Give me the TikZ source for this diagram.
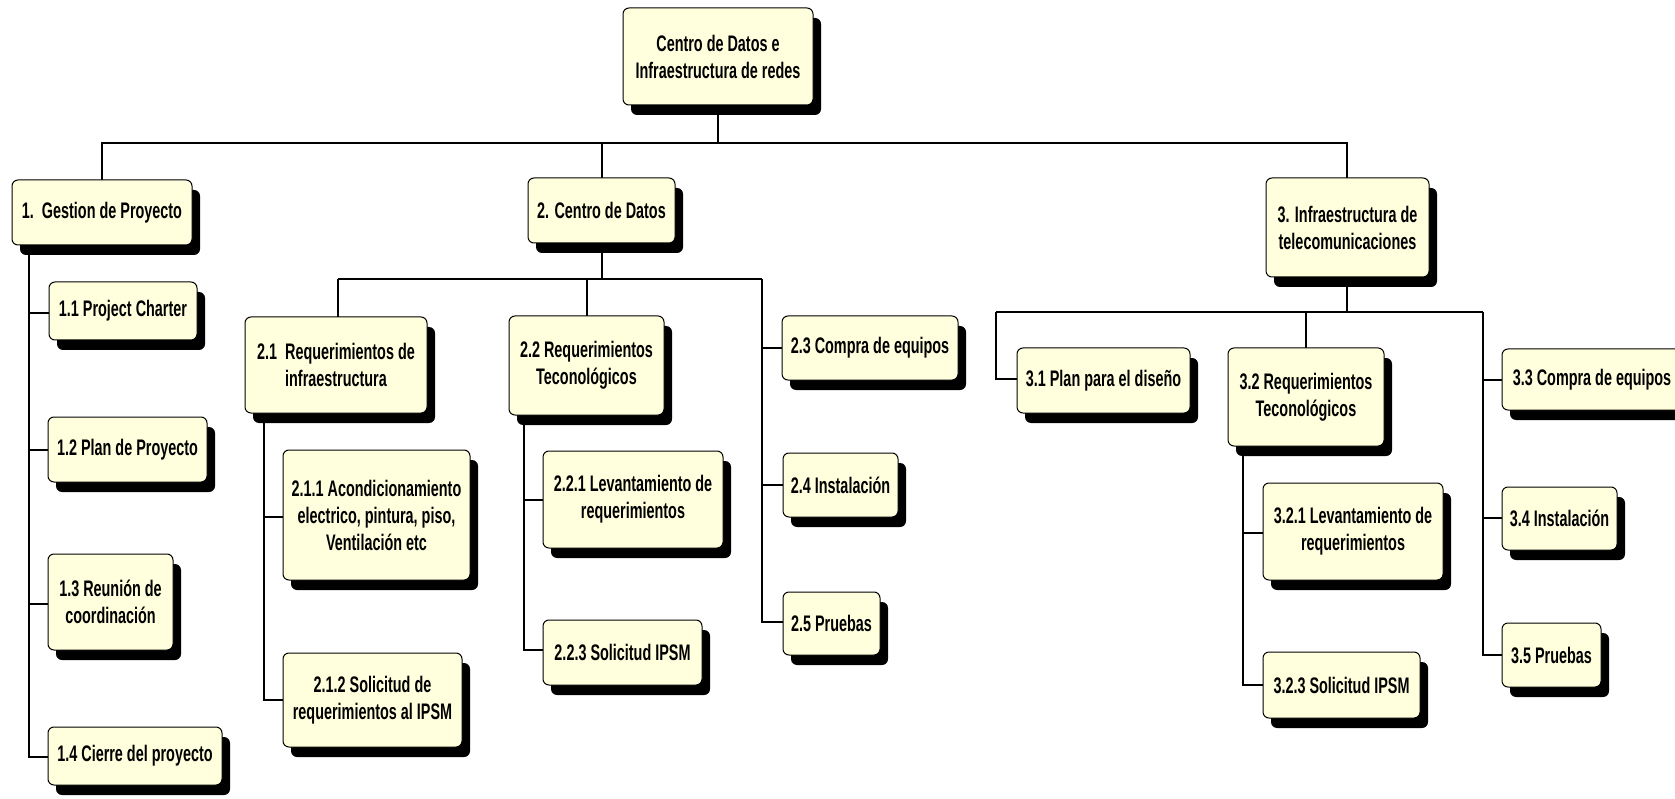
\documentclass[tikz,border=0pt]{standalone}
\usepackage{fontspec}
\setmainfont{Liberation Sans}[FakeStretch=0.64]
\usetikzlibrary{shadows}
\definecolor{boxfill}{RGB}{255,255,222}
\tikzset{
  wbs/.style={draw=black, line width=1pt, fill=boxfill, rounded corners=6pt,
    align=center, inner sep=2pt,
    font=\fontsize{22.5}{27}\selectfont\bfseries,
    drop shadow={shadow xshift=8pt, shadow yshift=-10pt, fill=black, opacity=1}},
  link/.style={line width=2.4pt, black}
}
\begin{document}
\begin{tikzpicture}[x=1pt,y=-1pt]
\useasboundingbox (0,0) rectangle (1675,799);
% connector hubs
\coordinate (b0) at (718,143);
\coordinate (c1) at (29,245);
\coordinate (b2) at (602,279);
\coordinate (c2l) at (338,279);
\coordinate (c2r) at (762,279);
\coordinate (c21) at (264,413);
\coordinate (c22) at (524,415);
\coordinate (b3) at (1347,312);
\coordinate (c3l) at (996,312);
\coordinate (c3r) at (1483,312);
\coordinate (c32) at (1243,446);

% connectors (drawn first, boxes cover them)
\draw[link] (b0) -- (718,100) (101,143) -- (1347,143);
\draw[link] (b0) -| (102,190);
\draw[link] (b0) -| (b2);
\draw[link] (b0) -| (b3);
\draw[link] (c1) |- (123,313) (c1) |- (127,450) (c1) |- (110,604) (c1) |- (135,757);
\draw[link] (b2) -- (602,230) (c2l) -- (c2r);
\draw[link] (c2l) -- (338,330);
\draw[link] (587,279) -- (587,330);
\draw[link] (c2r) |- (870,348) (c2r) |- (840,485) (c2r) |- (831,622);
\draw[link] (c21) |- (376,517) (c21) |- (370,700);
\draw[link] (c22) |- (633,500) (c22) |- (622,650);
\draw[link] (b3) -- (1347,260) (c3l) -- (c3r);
\draw[link] (c3l) |- (1103,379);
\draw[link] (1306,312) -- (1306,360);
\draw[link] (c3r) |- (1590,380) (c3r) |- (1559,518) (c3r) |- (1551,655);
\draw[link] (c32) |- (1353,533) (c32) |- (1341,685);

% boxes
\node[wbs, minimum width=190pt, minimum height=97pt] (root) at (718,56.5) {Centro de Datos e\\Infraestructura de redes};
\node[wbs, minimum width=180pt, minimum height=65pt] (n1) at (102,212.5) {1.\ \ Gestion de Proyecto};
\node[wbs, minimum width=148pt, minimum height=58pt] (n11) at (123,311) {1.1 Project Charter};
\node[wbs, minimum width=159pt, minimum height=65pt] (n12) at (127.5,449.5) {1.2 Plan de Proyecto};
\node[wbs, minimum width=125pt, minimum height=96pt] (n13) at (110.5,602) {1.3 Reunión de\\coordinación};
\node[wbs, minimum width=174pt, minimum height=58pt] (n14) at (135,756) {1.4 Cierre del proyecto};

\node[wbs, minimum width=147pt, minimum height=65pt] (n2) at (601.5,210.5) {2. Centro de Datos};
\node[wbs, minimum width=182pt, minimum height=96pt] (n21) at (336,365) {2.1\ \ Requerimientos de\\infraestructura};
\node[wbs, minimum width=187pt, minimum height=130pt] (n211) at (376.5,515) {2.1.1 Acondicionamiento\\electrico, pintura, piso,\\Ventilación etc};
\node[wbs, minimum width=179pt, minimum height=94pt] (n212) at (372.5,700) {2.1.2 Solicitud de\\requerimientos al IPSM};
\node[wbs, minimum width=155pt, minimum height=99pt] (n22) at (586.5,365.5) {2.2 Requerimientos\\Teconológicos};
\node[wbs, minimum width=180pt, minimum height=97pt] (n221) at (633,499.5) {2.2.1 Levantamiento de\\requerimientos};
\node[wbs, minimum width=159pt, minimum height=65pt] (n223) at (622.5,652.5) {2.2.3 Solicitud IPSM};
\node[wbs, minimum width=176pt, minimum height=64pt] (n23) at (870,348) {2.3 Compra de equipos};
\node[wbs, minimum width=115pt, minimum height=64pt] (n24) at (840.5,485) {2.4 Instalación};
\node[wbs, minimum width=97pt, minimum height=63pt] (n25) at (831.5,623.5) {2.5 Pruebas};

\node[wbs, minimum width=163pt, minimum height=99pt] (n3) at (1347.5,227.5) {3. Infraestructura de\\telecomunicaciones};
\node[wbs, minimum width=173pt, minimum height=65pt] (n31) at (1103.5,380.5) {3.1 Plan para el diseño};
\node[wbs, minimum width=156pt, minimum height=98pt] (n32) at (1306,397) {3.2 Requerimientos\\Teconológicos};
\node[wbs, minimum width=180pt, minimum height=97pt] (n321) at (1353,531.5) {3.2.1 Levantamiento de\\requerimientos};
\node[wbs, minimum width=157pt, minimum height=66pt] (n323) at (1341.5,685) {3.2.3 Solicitud IPSM};
\node[wbs, minimum width=180pt, minimum height=61pt] (n33) at (1592,379.5) {3.3 Compra de equipos};
\node[wbs, minimum width=115pt, minimum height=63pt] (n34) at (1559.5,518.5) {3.4 Instalación};
\node[wbs, minimum width=99pt, minimum height=64pt] (n35) at (1551.5,655) {3.5 Pruebas};
\end{tikzpicture}
\end{document}
